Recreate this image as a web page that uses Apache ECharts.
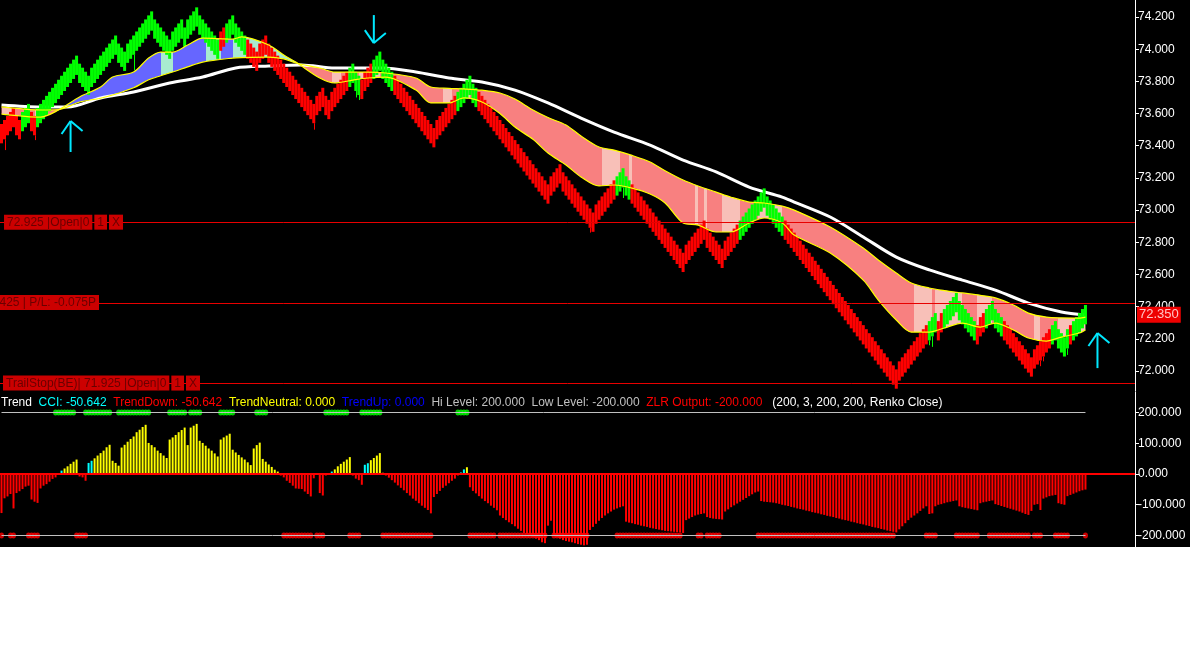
<!DOCTYPE html>
<html>
<head>
<meta charset="utf-8">
<title>Renko CCI</title>
<script src="https://cdn.jsdelivr.net/npm/echarts@6/dist/echarts.min.js"></script>
<style>
  html, body { margin: 0; padding: 0; background: #fff; }
  #chart { width: 1190px; height: 547px; }
</style>
</head>
<body>
<div id="chart"></div>
<script>
// renko brick closes, one per bar (box 0.025)
const renkoClose = [
  73.475,73.5,73.525,73.55,73.575,73.525,73.5,73.55,73.575,73.6,73.55,73.525,
  73.575,73.6,73.625,73.65,73.675,73.7,73.725,73.75,73.775,73.8,73.825,73.85,73.875,73.9,
  73.85,73.825,73.8,73.775,
  73.825,73.85,73.875,73.9,73.925,73.95,73.975,74,74.025,
  73.975,73.95,73.925,
  73.975,74,74.025,74.05,74.075,74.1,74.125,74.15,74.175,
  74.125,74.1,74.075,74.05,74.025,74,
  74.05,74.075,74.1,74.125,74.075,74.125,74.15,74.175,74.2,
  74.15,74.125,74.1,74.075,74.05,74.025,74,
  74.05,74.075,74.1,74.125,74.15,
  74.1,74.075,74.05,74.025,74,73.975,73.95,73.925,
  73.975,74,74.025,
  73.975,73.95,73.925,73.9,73.875,73.85,73.825,73.8,73.775,73.75,73.725,73.7,73.675,73.65,73.625,73.6,
  73.65,73.675,73.7,
  73.65,73.625,
  73.675,73.7,73.725,73.75,73.775,73.8,73.825,73.85,
  73.8,73.775,73.75,
  73.8,73.825,73.85,73.875,73.9,73.925,
  73.875,73.85,73.825,73.8,73.775,73.75,73.725,73.7,73.675,73.65,73.625,73.6,73.575,73.55,73.525,73.5,73.475,73.45,
  73.5,73.525,73.55,73.575,73.6,73.625,73.65,73.675,73.7,73.725,73.75,73.775,
  73.725,73.7,73.675,73.65,73.625,73.6,73.575,73.55,73.525,73.5,73.475,73.45,73.425,73.4,73.375,73.35,73.325,73.3,73.275,73.25,73.225,73.2,73.175,73.15,73.125,73.1,
  73.15,73.175,73.2,73.225,
  73.175,73.15,73.125,73.1,73.075,73.05,73.025,73,72.975,72.95,72.925,
  72.975,73,73.025,73.05,73.075,73.1,73.125,73.15,73.175,73.2,
  73.15,73.125,73.1,73.075,73.05,73.025,73,72.975,72.95,72.925,72.9,72.875,72.85,72.825,72.8,72.775,72.75,72.725,72.7,72.675,
  72.725,72.75,72.775,72.8,72.825,72.85,72.875,
  72.825,72.8,72.775,72.75,72.725,72.7,
  72.75,72.775,72.8,72.825,72.85,72.875,72.9,72.925,72.95,72.975,73,73.025,73.05,73.075,
  73.025,73,72.975,72.95,72.925,72.9,72.875,72.85,72.825,72.8,72.775,72.75,72.725,72.7,72.675,72.65,72.625,72.6,72.575,72.55,72.525,72.5,
  72.475,72.45,72.425,72.4,72.375,72.35,72.325,72.3,72.275,72.25,72.225,72.2,72.175,72.15,72.125,72.1,72.075,72.05,72.025,72,71.975,71.95,
  72,72.025,72.05,72.075,72.1,72.125,72.15,72.175,72.2,72.225,72.25,72.275,72.3,
  72.25,
  72.3,72.325,72.35,72.375,72.4,72.425,
  72.375,72.35,72.325,72.3,72.275,72.25,72.225,
  72.275,72.3,72.325,72.35,72.375,
  72.325,72.3,72.275,72.25,72.225,72.2,72.175,72.15,72.125,72.1,72.075,72.05,72.025,
  72.075,72.1,72.125,72.15,72.175,72.2,72.225,72.25,
  72.2,72.175,72.15,
  72.2,72.225,72.25,72.275,72.3,72.325,72.35
];
// bars drawn green (trend up), as [first, last] bar
const greenRuns = [[7,9],[12,72],[75,81],[116,119],[124,130],[152,158],[205,209],[246,260],[309,311],[314,324],[328,333],[350,355],[357,361]];
// tails under some bricks: [bar, low]
const wickLows = [[1,73.373],[11,73.435],[44,73.87],[104,73.5],[118,73.7],[119,73.684],[196,72.86],[207,73.075],[309,72.16],[310,72.15],[346,72.03],[347,72.06],[355,72.1]];
// signal arrows: [bar, tip price, tail price]
const signals = [[23,73.554,73.361],[124,74.038,74.212],[365,72.236,72.018]];

// moving average band (two yellow lines), sampled at bars
const maBars = [0,13,19,26,33,37,44,49,53,57,62,67,77,80,89,94,98,106,111,117,122,128,138,143,149,154,160,166,171,177,182,188,193,199,204,210,216,221,227,232,238,243,249,254,260,264,276,287,292,298,303,309,314,320,326,331,337,342,348,353,359,361];
const maFast = [73.597,73.578,73.622,73.703,73.765,73.827,73.858,73.945,73.982,73.982,74.026,74.069,74.063,74.076,74.026,73.964,73.92,73.821,73.79,73.808,73.821,73.827,73.746,73.666,73.666,73.697,73.672,73.6,73.516,73.44,73.355,73.28,73.206,73.15,73.156,73.137,73.1,73.044,72.92,72.907,72.864,72.864,72.92,72.951,72.92,72.845,72.733,72.565,72.441,72.317,72.242,72.242,72.267,72.298,72.273,72.298,72.255,72.205,72.186,72.211,72.236,72.255];
const maSlow = [73.641,73.622,73.625,73.672,73.695,73.715,73.76,73.81,73.835,73.858,73.89,73.92,73.945,73.948,73.951,73.94,73.914,73.883,73.858,73.858,73.858,73.852,73.821,73.765,73.757,73.753,73.745,73.728,73.69,73.622,73.575,73.529,73.46,73.392,73.373,73.34,73.299,73.245,73.187,73.15,73.112,73.08,73.05,73.044,73.025,73,72.895,72.764,72.69,72.609,72.547,72.516,72.5,72.485,72.47,72.454,72.41,72.36,72.335,72.33,72.329,72.335];
// slow white average
const whiteBars = [0,13,22,33,44,56,67,78,89,100,111,127,138,149,160,171,182,193,204,216,227,238,249,260,264,276,287,298,309,320,331,342,353,361];
const maWhite = [73.653,73.641,73.641,73.697,73.734,73.79,73.827,73.883,73.895,73.902,73.883,73.883,73.858,73.821,73.796,73.746,73.666,73.572,73.485,73.404,73.311,73.237,73.143,73.081,73.05,72.957,72.833,72.708,72.628,72.565,72.503,72.422,72.367,72.348];
// band fill state
const upRuns = [[19,98]];
const lightRuns = [[0,2],[11,12],[53,56],[68,72],[77,97],[110,112],[119,121],[124,125],[147,149],[154,155],[200,205],[209,209],[231,231],[234,234],[240,245],[252,259],[304,309],[311,319],[325,329],[344,345],[352,361]];

// order lines
const orderPrice = [72.925, 72.425, 71.925];
const orderTag = ['72.925 |Open|0', '72.425 | P/L: -0.075P', 'TrailStop(BE)| 71.925 |Open|0'];
const orderButtons = [true, false, true];

// CCI histogram, one per bar
const cci = [
  -127,-79,-73,-65,-112,-62,-56,-49,-41,-38,-83,-90,-94,-47,-38,-33,-25,-16,-11,-3,
  11,18,25,33,40,47,
  -8,-11,-22,
  36,43,51,60,68,76,87,95,
  43,36,27,
  86,95,105,114,122,136,144,153,160,
  101,94,87,76,68,60,52,
  112,119,127,136,143,151,94,151,157,163,
  108,101,92,83,76,67,57,
  112,119,125,131,
  79,70,62,54,47,38,29,
  83,94,102,
  49,40,31,23,14,8,
  -5,-11,-22,-29,-38,-47,-48,
  -49,-57,-65,-73,-14,-3,-62,-70,-5,-2,
  8,15,25,33,40,47,55,
  -5,-15,-20,-35,
  30,35,45,52,60,68,4,
  -5,-12,-20,-28,-37,-45,-53,-62,-70,-80,-87,-95,-103,-110,-117,-128,
  -75,-65,-55,-45,-38,-30,-22,-15,-5,
  5,15,22,
  -43,-55,-63,-72,-80,-88,-95,-103,-110,-118,-135,-143,-150,-157,-163,-170,-178,-185,-192,-196,-200,-205,-210,-215,-222,-225,
  -168,-152,
  -200,-205,-210,-215,-218,-220,-222,-225,-228,-230,-232,-230,
  -182,-172,
  -162,-152,-143,-135,-128,-122,-116,-112,-108,-105,
  -155,-158,-160,-163,-165,-168,-170,-172,-175,-177,-179,-181,-183,-185,-186,-187,-188,-189,-190,-192,
  -150,-145,-140,-135,-132,-130,-128,
  -140,-143,-145,-146,-147,-148,
  -122,-115,-108,-102,-96,-90,-84,-78,-72,-66,-60,-57,
  -88,-90,-91,-92,-93,-95,
  -97,-100,-102,-104,-107,-109,-112,-114,-116,-119,-121,-124,-126,-128,-131,-133,-136,-138,-140,-143,
  -145,-148,-150,-152,-155,-157,-160,-162,-164,-167,-169,-172,-174,-176,-179,-181,-184,-186,-188,-190,
  -180,-170,-160,-150,-142,-135,-128,-120,-112,-105,-130,-128,-105,
  -100,-98,-95,-92,-90,-88,-86,
  -105,-108,-110,-112,-114,-116,-118,
  -95,-92,-90,-88,-86,
  -98,-101,-104,-107,-110,-113,-116,-119,-122,-126,-130,-133,-120,
  -100,-98,-117,-80,-76,-72,-70,-68,
  -95,-98,-100,
  -72,-68,-64,-60,-56,-53,-50.642
];
const cyanBars = [20,29,30,110,121,122,153,154];
const zlrUpRuns = [[18,24],[28,36],[39,49],[56,61],[63,66],[73,77],[85,88],[108,115],[120,126],[152,155]];
const zlrDownRuns = [[0,0],[3,4],[9,12],[25,28],[94,103],[105,107],[116,119],[127,143],[156,164],[166,181],[184,195],[205,226],[232,233],[235,239],[252,297],[308,311],[318,325],[329,342],[344,346],[351,355],[361,361]];
const hiLevel = 200, loLevel = -200;

const priceTicks = [72.0,72.2,72.4,72.6,72.8,73.0,73.2,73.4,73.6,73.8,74.0,74.2];
const cciTicks = [-200,-100,0,100,200];

// ---------------------------------------------------------------
const N_SLOTS = 378;
const BRICK_H = 0.12;
const FONT = 'Liberation Sans';
const GREEN = '#00ff00', RED = '#ff0000';
const BLUE = '#6666ff', AQUA = '#a8ecd0', PINK = '#f88080', PINK_LIGHT = '#f8c0b8';

const inRuns = (runs, i) => runs.some(r => i >= r[0] && i <= r[1]);
const brickColor = i => inRuns(greenRuns, i) ? GREEN : RED;
const slots = Array.from({length: N_SLOTS}, (_, i) => String(i));
const lastBar = renkoClose.length - 1;
const lastClose = renkoClose[lastBar];
const lastCci = cci[cci.length - 1];

// fill colour pieces along the bars
const pieces = [];
for (let i = 0; i <= lastBar; i++) {
  const up = inRuns(upRuns, i), light = inRuns(lightRuns, i);
  const col = up ? (light ? AQUA : BLUE) : (light ? PINK_LIGHT : PINK);
  const last = pieces[pieces.length - 1];
  if (last && last.color === col) last.lt = i + 0.5;
  else pieces.push({gte: i - 0.5, lt: i + 0.5, color: col});
}

const runPoints = (runs, level) => {
  const out = [];
  runs.forEach(r => { for (let i = r[0]; i <= r[1]; i++) out.push([i, level]); });
  return out;
};

const chart = echarts.init(document.getElementById('chart'));

const axisBase = {
  type: 'value', position: 'right',
  splitLine: {show: false},
  axisLine: {show: true, lineStyle: {color: '#fff', width: 1}}
};

const option = {
  backgroundColor: '#000',
  animation: false,
  grid: [
    {left: 0, right: 55, top: 0, height: 391},
    {left: 0, right: 55, top: 392, height: 155}
  ],
  xAxis: [
    {type: 'category', gridIndex: 0, data: slots, show: false},
    {type: 'category', gridIndex: 1, data: slots, show: false}
  ],
  yAxis: [
    Object.assign({}, axisBase, {
      gridIndex: 0, min: 71.8757, max: 74.3057,
      axisTick: {show: true, length: 4, lineStyle: {color: '#fff'}, customValues: priceTicks},
      axisLabel: {
        color: '#fff', fontFamily: FONT, fontSize: 12, margin: 3, customValues: priceTicks,
        formatter: v => v.toFixed(3)
      }
    }),
    Object.assign({}, axisBase, {
      gridIndex: 1, min: -237.4, max: 266.67,
      axisTick: {show: true, length: 4, lineStyle: {color: '#fff'}, customValues: cciTicks},
      axisLabel: {
        color: '#fff', fontFamily: FONT, fontSize: 12, margin: 3, customValues: cciTicks,
        formatter: v => v.toFixed(3)
      }
    })
  ],
  visualMap: [{
    type: 'piecewise', show: false, seriesIndex: 1, dimension: 0,
    pieces: pieces, outOfRange: {color: PINK}
  }],
  series: [
    { // band base (slow line, invisible)
      type: 'line', xAxisIndex: 0, yAxisIndex: 0, z: 1, silent: true,
      stack: 'band', stackStrategy: 'all', symbol: 'none', smooth: 0.3,
      lineStyle: {opacity: 0},
      data: maBars.map((b, i) => [b, maSlow[i]])
    },
    { // band fill between the two averages
      type: 'line', xAxisIndex: 0, yAxisIndex: 0, z: 1, silent: true,
      stack: 'band', stackStrategy: 'all', symbol: 'none', smooth: 0.3,
      lineStyle: {opacity: 0}, areaStyle: {opacity: 1},
      data: maBars.map((b, i) => [b, +(maFast[i] - maSlow[i]).toFixed(4)])
    },
    { // white average
      type: 'line', xAxisIndex: 0, yAxisIndex: 0, z: 2, silent: true,
      symbol: 'none', smooth: 0.3,
      lineStyle: {color: '#ffffff', width: 3},
      data: whiteBars.map((b, i) => [b, maWhite[i]])
    },
    { // renko bricks
      type: 'custom', xAxisIndex: 0, yAxisIndex: 0, z: 3, silent: true,
      encode: {x: 0, y: 1},
      data: renkoClose.map((c, i) => [i, c]),
      renderItem: function (params, api) {
        const i = api.value(0), c = api.value(1);
        const hi = api.coord([i, c + BRICK_H / 2]);
        const lo = api.coord([i, c - BRICK_H / 2]);
        const w = api.size([1, 0])[0];
        return {
          type: 'rect',
          shape: {x: hi[0] - w / 2, y: hi[1], width: w, height: lo[1] - hi[1]},
          style: {fill: brickColor(i)}
        };
      }
    },
    { // brick tails
      type: 'custom', xAxisIndex: 0, yAxisIndex: 0, z: 3, silent: true,
      encode: {x: 0, y: 1},
      data: wickLows,
      renderItem: function (params, api) {
        const i = api.value(0);
        const top = api.coord([i, renkoClose[i] - BRICK_H / 2]);
        const bot = api.coord([i, api.value(1)]);
        const x = Math.round(top[0]) + 0.5;
        return {
          type: 'line',
          shape: {x1: x, y1: top[1], x2: x, y2: bot[1]},
          style: {stroke: brickColor(i), lineWidth: 1}
        };
      }
    },
    { // slow yellow
      type: 'line', xAxisIndex: 0, yAxisIndex: 0, z: 4, silent: true,
      symbol: 'none', smooth: 0.3,
      lineStyle: {color: '#ffff00', width: 1.2},
      data: maBars.map((b, i) => [b, maSlow[i]])
    },
    { // fast yellow
      type: 'line', xAxisIndex: 0, yAxisIndex: 0, z: 4, silent: true,
      symbol: 'none', smooth: 0.3,
      lineStyle: {color: '#ffff00', width: 1.2},
      data: maBars.map((b, i) => [b, maFast[i]])
    },
    { // order lines across the price pane
      type: 'custom', xAxisIndex: 0, yAxisIndex: 0, z: 5, silent: true, clip: false,
      encode: {x: 0, y: 1},
      data: orderPrice.map(p => [0, p]),
      renderItem: function (params, api) {
        const cs = params.coordSys;
        const y = Math.round(api.coord([0, api.value(1)])[1]) + 0.5;
        return {
          type: 'line',
          shape: {x1: cs.x, y1: y, x2: cs.x + cs.width, y2: y},
          style: {stroke: '#e80000', lineWidth: 1}
        };
      }
    },
    { // signal arrows
      type: 'custom', xAxisIndex: 0, yAxisIndex: 0, z: 5, silent: true,
      encode: {x: 0, y: [1, 2]},
      data: signals,
      renderItem: function (params, api) {
        const i = api.value(0);
        const tip = api.coord([i, api.value(1)]);
        const tail = api.coord([i, api.value(2)]);
        const s = tip[1] < tail[1] ? 1 : -1;
        const st = {stroke: '#00e8ff', lineWidth: 2};
        return {
          type: 'group',
          children: [
            {type: 'line', shape: {x1: tip[0], y1: tip[1], x2: tail[0], y2: tail[1]}, style: st},
            {type: 'line', shape: {x1: tip[0], y1: tip[1], x2: tip[0] - 9, y2: tip[1] + 13 * s}, style: st},
            {type: 'line', shape: {x1: tip[0], y1: tip[1], x2: tip[0] + 12, y2: tip[1] + 10 * s}, style: st}
          ]
        };
      }
    },
    { // CCI histogram
      type: 'bar', xAxisIndex: 1, yAxisIndex: 1, z: 2, silent: true,
      barWidth: 2,
      data: cci,
      itemStyle: {
        color: p => p.value < 0 ? '#ff0000' : (cyanBars.indexOf(p.dataIndex) >= 0 ? '#00ffff' : '#ffff00')
      },
      markLine: {
        silent: true, symbol: 'none', animation: false,
        label: {show: false},
        lineStyle: {color: '#c0c0c0', width: 1, type: 'solid'},
        data: [
          {yAxis: 0, lineStyle: {color: '#ff0000', width: 2, type: 'solid'}},
          [{coord: [0, hiLevel]}, {coord: [lastBar, hiLevel]}],
          [{coord: [0, loLevel]}, {coord: [lastBar, loLevel]}]
        ]
      }
    },
    { // ZLR up dots
      type: 'scatter', xAxisIndex: 1, yAxisIndex: 1, z: 4, silent: true,
      symbol: 'circle', symbolSize: [5, 6],
      itemStyle: {color: '#00ff00'},
      data: runPoints(zlrUpRuns, hiLevel)
    },
    { // ZLR down dots
      type: 'scatter', xAxisIndex: 1, yAxisIndex: 1, z: 4, silent: true,
      symbol: 'circle', symbolSize: [5, 6],
      itemStyle: {color: '#ff0000'},
      data: runPoints(zlrDownRuns, loLevel)
    }
  ]
};

chart.setOption(option);

// text overlays placed from the axis scale
const yPx = p => chart.convertToPixel({yAxisIndex: 0}, p);
const boxRich = {
  a: {backgroundColor: '#cc0000', fill: '#6a0000', padding: [2, 3, 1, 3], fontSize: 12, fontFamily: FONT},
  s: {width: 2}
};
const labelRight = [123, 99, 200];
const graphics = orderPrice.map((p, k) => ({
  type: 'text', x: labelRight[k], y: yPx(p), z: 100, silent: true,
  style: {
    text: '{a|' + orderTag[k] + '}' + (orderButtons[k] ? '{s| }{a|1}{s| }{a|X}' : ''),
    rich: boxRich, align: 'right', verticalAlign: 'middle'
  }
}));
graphics.push({
  type: 'text', x: 1137, y: yPx(lastClose), z: 100, silent: true,
  style: {
    text: lastClose.toFixed(3), fill: '#ffc4c4', backgroundColor: '#ee0000',
    padding: [2, 2, 1, 2], fontSize: 13, fontFamily: FONT, align: 'left', verticalAlign: 'middle'
  }
});
const fmt = v => v.toFixed(3);
graphics.push({
  type: 'text', x: 1, y: 403, z: 100, silent: true,
  style: {
    text: '{w|Trend}  {c|CCI: ' + fmt(lastCci) + '}  {r|TrendDown: ' + fmt(lastCci < 0 ? lastCci : 0) +
      '}  {y|TrendNeutral: 0.000}  {b|TrendUp: ' + fmt(lastCci > 0 ? lastCci : 0) +
      '}  {g|Hi Level: ' + fmt(hiLevel) + '}  {g|Low Level: ' + fmt(loLevel) +
      '}  {r|ZLR Output: ' + fmt(loLevel) + '}   {w|(200, 3, 200, 200, Renko Close)}',
    verticalAlign: 'middle', align: 'left',
    rich: {
      w: {fill: '#ffffff', fontSize: 12, fontFamily: FONT},
      c: {fill: '#00ffff', fontSize: 12, fontFamily: FONT},
      r: {fill: '#ff0000', fontSize: 12, fontFamily: FONT},
      y: {fill: '#ffff00', fontSize: 12, fontFamily: FONT},
      b: {fill: '#0000ff', fontSize: 12, fontFamily: FONT},
      g: {fill: '#c0c0c0', fontSize: 12, fontFamily: FONT}
    }
  }
});
chart.setOption({graphic: graphics});
</script>
</body>
</html>
